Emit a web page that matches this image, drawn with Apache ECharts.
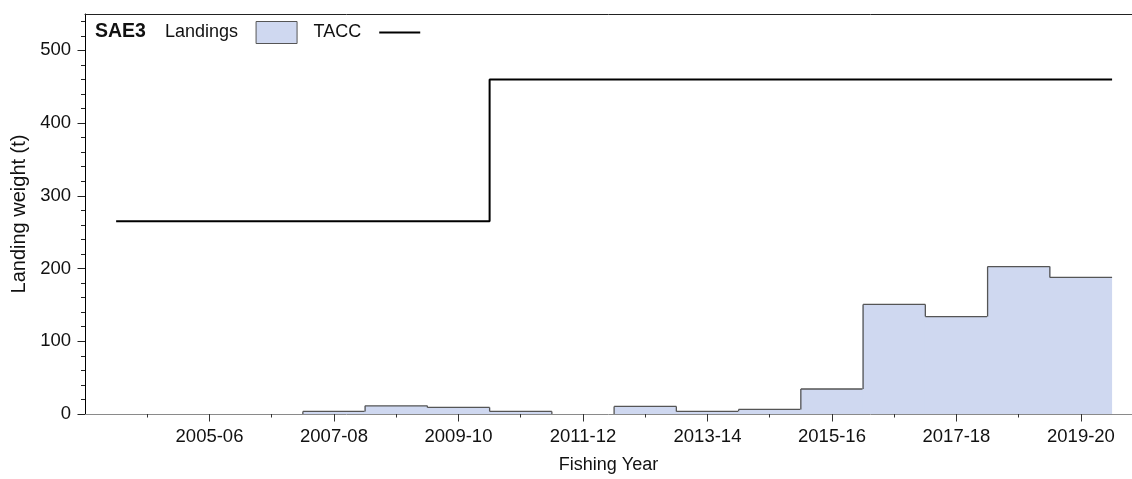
<!DOCTYPE html>
<html>
<head>
<meta charset="utf-8">
<script src="https://cdn.jsdelivr.net/npm/echarts@6/dist/echarts.min.js"></script>
<style>
  html, body { margin: 0; padding: 0; background: #fff; }
  #chart { width: 1132px; height: 479px; }
</style>
</head>
<body>
<div id="chart"></div>
<script>
// ---- Data ----
const years = ['2004-05','2005-06','2006-07','2007-08','2008-09','2009-10','2010-11','2011-12',
               '2012-13','2013-14','2014-15','2015-16','2016-17','2017-18','2018-19','2019-20'];
const landings = [0, 0, 0, 3.6, 11.3, 9, 3.6, 0, 10.4, 3.6, 6.3, 34.4, 150.7, 134, 202.7, 187.8];
const tacc = [265, 265, 265, 265, 265, 265, 460, 460, 460, 460, 460, 460, 460, 460, 460, 460];
const yMajorTicks = [0, 100, 200, 300, 400, 500];
const yMinorTicks = [20, 40, 60, 80, 120, 140, 160, 180, 220, 240, 260, 280, 320, 340, 360, 380, 420, 440, 460, 480, 520, 540];
const xLabelPositions = [2, 4, 6, 8, 10, 12, 14, 16];   // index positions of labelled years (1 = 2004-05)
const xMinorPositions = [1, 3, 5, 7, 9, 11, 13, 15];

// year i sits at x = i + 1, its bin spans [x - 0.5, x + 0.5]
const landingsData = landings.map((v, i) => [i + 1, v, i > 0 ? landings[i - 1] : 0, i < landings.length - 1 ? landings[i + 1] : 0]);
function stepPoints(vals) {
  const pts = [];
  vals.forEach((v, i) => { pts.push([i + 0.5, v]); pts.push([i + 1.5, v]); });
  return pts;
}

const FONT = 'Liberation Sans, Arial, sans-serif';
const FILL = '#cfd8f0';
const EDGE = '#555';
const xMax = 16.82;

function renderLanding(params, api) {
  const x = api.value(0), v = api.value(1), prev = api.value(2), next = api.value(3);
  const p0 = api.coord([x - 0.5, v]);
  const p1 = api.coord([x + 0.5, 0]);
  const pPrev = api.coord([x - 0.5, prev]);
  const children = [];
  if (v > 0) {
    // overlap neighbouring filled bins slightly so no seams show
    const padL = prev > 0 ? 0.6 : 0;
    const padR = next > 0 ? 0.6 : 0;
    children.push({
      type: 'rect', shape: { x: p0[0] - padL, y: p0[1], width: p1[0] - p0[0] + padL + padR, height: p1[1] - p0[1] },
      style: { fill: FILL, stroke: null }
    });
    children.push({
      type: 'line', shape: { x1: p0[0], y1: p0[1], x2: p1[0], y2: p0[1] },
      style: { stroke: EDGE, lineWidth: 1.3 }
    });
  }
  if (prev !== v) {
    children.push({
      type: 'line', shape: { x1: p0[0], y1: pPrev[1], x2: p0[0], y2: p0[1] },
      style: { stroke: EDGE, lineWidth: 1.3 }
    });
  }
  return { type: 'group', children };
}

const chart = echarts.init(document.getElementById('chart'), null, { renderer: 'canvas' });
chart.setOption({
  animation: false,
  backgroundColor: '#fff',
  title: {
    text: 'SAE3', left: 95, top: 22, padding: 0,
    textStyle: { fontFamily: FONT, fontSize: 19.5, fontWeight: 'bold', color: '#111' }
  },
  legend: {
    left: 165, top: 21, padding: 0,
    itemWidth: 41, itemHeight: 22, itemGap: 16, align: 'right',
    textStyle: { fontFamily: FONT, fontSize: 18, color: '#111',
      rich: { p: { fontFamily: FONT, fontSize: 18, color: '#111', padding: [0, 13, 0, 0] } } },
    formatter: n => '{p|' + n + '}',
    data: [
      { name: 'Landings', icon: 'rect', itemStyle: { color: FILL, borderColor: EDGE, borderWidth: 1 } },
      { name: 'TACC', itemStyle: { color: 'rgba(0,0,0,0)', borderWidth: 0, borderColor: 'rgba(0,0,0,0)' },
        lineStyle: { color: '#000', width: 2 } }
    ]
  },
  grid: { left: 85, right: 0, top: 14, bottom: 59, containLabel: false },
  xAxis: [
    {
      type: 'value', min: 0, max: xMax, position: 'bottom',
      name: 'Fishing Year', nameLocation: 'middle', nameGap: 42,
      nameTextStyle: { fontFamily: FONT, fontSize: 18, color: '#111' },
      axisLine: { show: true, lineStyle: { color: '#8a8a8a', width: 1 } },
      axisTick: { show: true, length: 7.5, customValues: xLabelPositions, lineStyle: { color: '#333' } },
      axisLabel: { show: true, margin: 13, customValues: xLabelPositions,
        fontFamily: FONT, fontSize: 18.5, color: '#111',
        formatter: v => years[Math.round(v) - 1] || '' },
      splitLine: { show: false }
    },
    {
      type: 'value', min: 0, max: xMax, position: 'bottom',
      axisLine: { show: false },
      axisTick: { show: true, length: 3.5, customValues: xMinorPositions, lineStyle: { color: '#333' } },
      axisLabel: { show: false },
      splitLine: { show: false }
    },
    {
      type: 'value', min: 0, max: xMax, position: 'top',
      axisLine: { show: true, lineStyle: { color: '#222', width: 1 } },
      axisTick: { show: false }, axisLabel: { show: false }, splitLine: { show: false }
    }
  ],
  yAxis: [
    {
      type: 'value', min: 0, max: 550, position: 'left',
      name: 'Landing weight (t)', nameLocation: 'middle', nameGap: 53,
      nameTextStyle: { fontFamily: FONT, fontSize: 20, color: '#111' },
      axisLine: { show: true, lineStyle: { color: '#000', width: 1 } },
      axisTick: { show: true, length: 7.5, customValues: yMajorTicks, lineStyle: { color: '#222' } },
      axisLabel: { show: true, margin: 14, customValues: yMajorTicks,
        fontFamily: FONT, fontSize: 18.5, color: '#111' },
      splitLine: { show: false }
    },
    {
      type: 'value', min: 0, max: 550, position: 'left',
      axisLine: { show: false },
      axisTick: { show: true, length: 4, customValues: yMinorTicks, lineStyle: { color: '#222' } },
      axisLabel: { show: false }, splitLine: { show: false }
    }
  ],
  series: [
    {
      name: 'Landings', type: 'custom', xAxisIndex: 0, yAxisIndex: 0,
      data: landingsData, renderItem: renderLanding,
      encode: { x: 0, y: 1 },
      itemStyle: { color: FILL },
      z: 2
    },
    {
      name: 'TACC', type: 'line', xAxisIndex: 0, yAxisIndex: 0,
      data: stepPoints(tacc), symbol: 'none',
      lineStyle: { color: '#000', width: 2 },
      itemStyle: { color: '#000' },
      z: 3
    }
  ]
});
</script>
</body>
</html>
